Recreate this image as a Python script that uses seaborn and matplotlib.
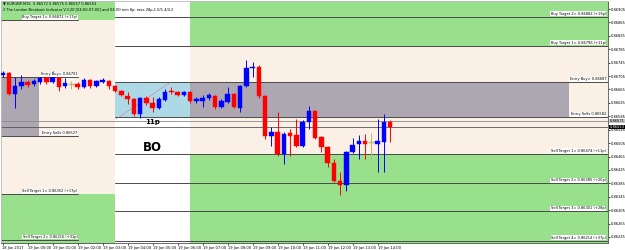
import numpy as np
import pandas as pd
import matplotlib
matplotlib.use("Agg")
import matplotlib.pyplot as plt
import seaborn as sns

# ---------------- data ----------------
times = pd.date_range("2017-01-18 23:00", periods=63, freq="15min")
opens = [0.86707, 0.86713, 0.86651, 0.86674, 0.86686, 0.86680, 0.86686, 0.86701, 0.86686, 0.86710,
         0.86674, 0.86680, 0.86680, 0.86671, 0.86692, 0.86674, 0.86686, 0.86689, 0.86674, 0.86660,
         0.86645, 0.86636, 0.86592, 0.86639, 0.86624, 0.86609, 0.86633, 0.86660, 0.86657, 0.86648,
         0.86657, 0.86630, 0.86630, 0.86639, 0.86645, 0.86612, 0.86627, 0.86651, 0.86609, 0.86674,
         0.86730, 0.86733, 0.86645, 0.86527, 0.86538, 0.86473, 0.86535, 0.86529, 0.86497, 0.86568,
         0.86600, 0.86524, 0.86494, 0.86447, 0.86391, 0.86379, 0.86479, 0.86503, 0.86512, 0.86506,
         0.86503, 0.86509, 0.86568]
highs = [0.86719, 0.86716, 0.86701, 0.86707, 0.86692, 0.86695, 0.86707, 0.86707, 0.86719, 0.86713,
         0.86698, 0.86689, 0.86686, 0.86698, 0.86695, 0.86692, 0.86698, 0.86692, 0.86677, 0.86663,
         0.86657, 0.86639, 0.86642, 0.86645, 0.86642, 0.86642, 0.86665, 0.86671, 0.86660, 0.86660,
         0.86660, 0.86642, 0.86648, 0.86654, 0.86648, 0.86636, 0.86671, 0.86654, 0.86677, 0.86754,
         0.86748, 0.86739, 0.86648, 0.86553, 0.86597, 0.86538, 0.86547, 0.86577, 0.86574, 0.86615,
         0.86603, 0.86527, 0.86497, 0.86458, 0.86420, 0.86482, 0.86521, 0.86529, 0.86532, 0.86535,
         0.86577, 0.86592, 0.86574]
lows = [0.86701, 0.86648, 0.86609, 0.86665, 0.86671, 0.86674, 0.86680, 0.86680, 0.86683, 0.86660,
        0.86668, 0.86665, 0.86665, 0.86668, 0.86668, 0.86671, 0.86683, 0.86665, 0.86657, 0.86645,
        0.86621, 0.86586, 0.86580, 0.86618, 0.86597, 0.86606, 0.86630, 0.86651, 0.86645, 0.86645,
        0.86624, 0.86624, 0.86612, 0.86633, 0.86606, 0.86609, 0.86624, 0.86609, 0.86597, 0.86671,
        0.86701, 0.86639, 0.86518, 0.86497, 0.86467, 0.86444, 0.86467, 0.86494, 0.86494, 0.86547,
        0.86518, 0.86479, 0.86435, 0.86388, 0.86349, 0.86361, 0.86476, 0.86458, 0.86458, 0.86458,
        0.86420, 0.86420, 0.86509]
closes = [0.86713, 0.86651, 0.86674, 0.86686, 0.86677, 0.86689, 0.86698, 0.86686, 0.86710, 0.86671,
          0.86683, 0.86680, 0.86671, 0.86692, 0.86674, 0.86689, 0.86692, 0.86674, 0.86660, 0.86648,
          0.86636, 0.86592, 0.86639, 0.86624, 0.86609, 0.86636, 0.86657, 0.86657, 0.86648, 0.86657,
          0.86630, 0.86636, 0.86639, 0.86648, 0.86612, 0.86630, 0.86651, 0.86612, 0.86674, 0.86730,
          0.86733, 0.86645, 0.86527, 0.86538, 0.86473, 0.86532, 0.86527, 0.86497, 0.86568, 0.86600,
          0.86521, 0.86494, 0.86447, 0.86391, 0.86379, 0.86479, 0.86500, 0.86512, 0.86503, 0.86506,
          0.86512, 0.86568, 0.86553]

# previous day levels
prev_levels = {"Buy Target 1": 0.86872, "Entry Buy": 0.86701, "Entry Sells": 0.86527,
               "Sell Target 1": 0.86352, "Sell Target 2": 0.86216}
prev_pips = {"Buy Target 1": "(+17p)", "Sell Target 1": "(+17p)", "Sell Target 2": "(+31p)"}
# today's levels
levels = {"Buy Target 2": 0.86882, "Buy Target 1": 0.86796, "Entry Buy": 0.86687, "Entry Sells": 0.86582,
          "Sell Target 1": 0.86474, "Sell Target 2": 0.86385, "Sell Target 3": 0.86301, "Sell Target 4": 0.86214}
level_pips = {"Buy Target 2": "(+19p)", "Buy Target 1": "(+11p)", "Sell Target 1": "(+11p)",
              "Sell Target 2": "(+20p)", "Sell Target 3": "(+28p)", "Sell Target 4": "(+37p)"}
ask_price = 0.86571
bid_price = 0.86553
range_label = "11p"

x_labels = ["18 Jan 2017"] + [f"19 Jan {h:02d}:00" for h in range(0, 15)]
y_ticks = [0.86225, 0.86265, 0.86305, 0.86345, 0.86385, 0.86425, 0.86465, 0.86505, 0.86545,
           0.86585, 0.86625, 0.86665, 0.86705, 0.86745, 0.86785, 0.86825, 0.86865, 0.86905]

# ---------------- style ----------------
sns.set_theme(style="white")
plt.rcParams["font.family"] = ["DejaVu Sans"]

GREEN = "#98E08C"
PEACH = "#FAF0E6"
GRAY = "#ACA7B0"
LBLUE = "#ADD8E6"
LINE = "#4a4a4a"

df = pd.DataFrame({"t": times, "o": opens, "h": highs, "l": lows, "c": closes})
base = pd.Timestamp("2017-01-19 00:00")
df["x"] = (df["t"] - base) / pd.Timedelta(hours=1)

fig = plt.figure(figsize=(6.25, 2.5), dpi=100)
ax = fig.add_axes([1 / 625, 7 / 250, 607 / 625, 242 / 250])
XMIN, XMAX = -1.06, 23.22
YMIN, YMAX = 0.86207, 0.86929
ax.set_xlim(XMIN, XMAX)
ax.set_ylim(YMIN, YMAX)
ax.set_facecolor("white")

L_START, BOX_S, BOX_E, GRAY_E = -1.5, 3.5, 6.5, 21.66
R_END = 24

def rect(x0, x1, y0, y1, color, z=0):
    ax.fill_between([x0, x1], [y0, y0], [y1, y1], color=color, lw=0, zorder=z)

# previous-day zones
rect(L_START, BOX_S, prev_levels["Sell Target 1"], prev_levels["Buy Target 1"], PEACH)
rect(L_START, BOX_S, prev_levels["Buy Target 1"], 0.8700, GREEN)
rect(L_START, BOX_S, 0.8615, prev_levels["Sell Target 1"], GREEN)
rect(L_START, 0.45, prev_levels["Entry Sells"], prev_levels["Entry Buy"], GRAY, 0.5)

# today's zones
rect(BOX_S, BOX_E, levels["Entry Sells"], levels["Entry Buy"], LBLUE, 0.5)
rect(BOX_E, R_END, levels["Sell Target 1"], levels["Buy Target 1"], PEACH)
rect(BOX_E, R_END, levels["Buy Target 1"], 0.8700, GREEN)
rect(BOX_E, R_END, 0.8615, levels["Sell Target 1"], GREEN)
rect(BOX_E, GRAY_E, levels["Entry Sells"], levels["Entry Buy"], GRAY, 0.5)

lab_kw = dict(fontsize=2.6, color="black", zorder=6,
              bbox=dict(facecolor="white", edgecolor="none", pad=0.3))

# previous-day lines and labels
for name, val in prev_levels.items():
    ax.plot([L_START, 2.0], [val, val], color=LINE, lw=0.7, zorder=1)
    if name.startswith("Entry"):
        txt = f"{name}= {val:.5f}" if name == "Entry Buy" else f"{name} {val:.5f}"
    else:
        txt = f"{name}= {val:.5f} {prev_pips[name]}"
    ax.text(2.0, val + 0.00003, txt, ha="right", va="bottom", **lab_kw)

# today's lines and labels
for name, val in levels.items():
    ax.plot([BOX_S, R_END], [val, val], color=LINE, lw=0.7, zorder=1)
    if name.startswith("Entry"):
        txt = f"{name}= {val:.5f}" if name == "Entry Buy" else f"{name} {val:.5f}"
    else:
        txt = f"{name}= {val:.5f} {level_pips[name]}"
    ax.text(23.14, val + 0.00003, txt, ha="right", va="bottom", **lab_kw)

# ask / bid lines
ax.axhline(ask_price, color="#8a8a8a", lw=0.6, zorder=1)
ax.axhline(bid_price, color="#555555", lw=0.6, zorder=1)

# trend line in the range box
ax.plot([3.55, 5.7], [0.86577, 0.86686], color="#e05050", lw=0.6, ls=(0, (1, 1.5)), zorder=2)

# candles
w = 0.18
for _, r in df.iterrows():
    if r.c > r.o:
        col = "#0000FF"
    elif r.c < r.o:
        col = "#FF0000"
    else:
        col = "#BDB76B"
    ax.vlines(r.x, r.l, r.h, color=col, lw=0.7, zorder=3)
    lo, hi = min(r.o, r.c), max(r.o, r.c)
    if hi - lo < 0.00003:
        mid = (hi + lo) / 2
        lo, hi = mid - 0.000015, mid + 0.000015
    ax.bar(r.x, hi - lo, bottom=lo, width=w, color=col, edgecolor=col, lw=0.3, zorder=4)

# annotations
ax.text(5.0, levels["Entry Sells"] - 0.00005, range_label, ha="center", va="top",
        fontsize=5, fontweight="bold", color="black", zorder=6)
ax.text(5.0, 0.86491, "BO", ha="center", va="center", fontsize=8.5, fontweight="bold",
        color="black", zorder=6)

ax.text(0.004, 0.988, "\u25BC EURGBP,M15  0.86572 0.86575 0.86557 0.86553", transform=ax.transAxes,
        fontsize=2.6, va="center", ha="left", color="black", zorder=7)
ax.text(0.004, 0.963, "2 The London Breakout Indicator V.3.20 [04:00-07:00] and 04:00 min 8p, max 28p,1.0/1.4/4.2",
        transform=ax.transAxes, fontsize=2.6, va="center", ha="left", color="black", zorder=7)

# axes
ax.yaxis.tick_right()
ax.set_yticks(y_ticks)
ax.set_yticklabels([f"{v:.5f}" for v in y_ticks])
ax.set_xticks(list(range(-1, 15)))
ax.set_xticklabels(x_labels, ha="left")
ax.tick_params(axis="both", labelsize=2.6, length=1.5, width=0.5, pad=0.5, colors="black")
ax.tick_params(axis="y", right=True, left=False)
ax.tick_params(axis="x", bottom=True)
for s in ax.spines.values():
    s.set_color("#555555")
    s.set_linewidth(0.6)
ax.spines["top"].set_color("#bbbbbb")
ax.spines["left"].set_color("#bbbbbb")

# price markers on the right axis
ytr = ax.get_yaxis_transform()
ax.text(1.003, ask_price, f"{ask_price:.5f}", transform=ytr, fontsize=2.6, va="center", ha="left",
        color="black", clip_on=False, bbox=dict(facecolor="#c8c8c8", edgecolor="none", pad=0.3), zorder=8)
ax.text(1.003, bid_price, f"{bid_price:.5f}", transform=ytr, fontsize=2.6, va="center", ha="left",
        color="white", clip_on=False, bbox=dict(facecolor="black", edgecolor="none", pad=0.3), zorder=8)

fig.savefig("out.png", dpi=100)
